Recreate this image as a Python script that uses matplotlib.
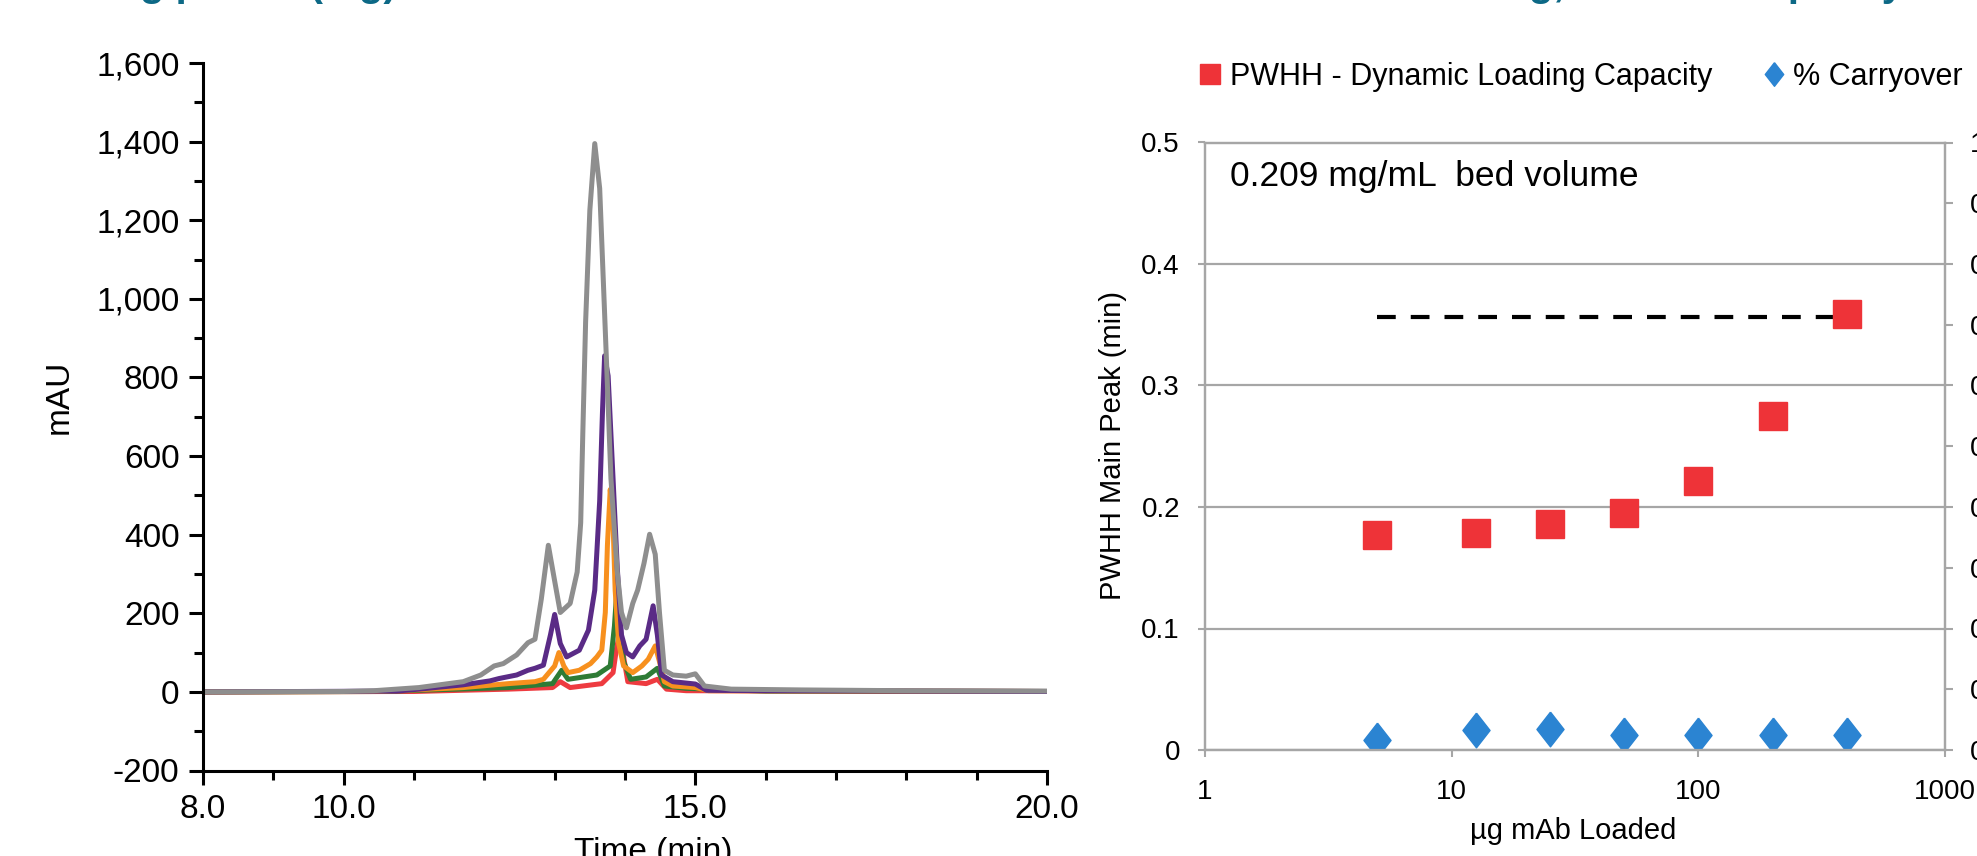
import matplotlib.pyplot as plt
from matplotlib.lines import Line2D
from matplotlib.ticker import FixedLocator, FuncFormatter, MultipleLocator, NullLocator

plt.rcParams.update({"font.family": ["Liberation Sans", "DejaVu Sans"]})

# ---- left panel: chromatogram overlay (time in min, signal in mAU) ----
gray_t = [8.0, 10.0, 10.43, 11.07, 11.70, 11.95, 12.14, 12.27, 12.46, 12.62, 12.72, 12.81,
          12.91, 13.00, 13.08, 13.22, 13.32, 13.37, 13.40, 13.44, 13.50, 13.57, 13.64, 13.69,
          13.74, 13.80, 13.89, 13.95, 14.02, 14.11, 14.18, 14.27, 14.35, 14.43, 14.49, 14.56,
          14.68, 14.87, 15.00, 15.13, 15.51, 16.5, 18.0, 20.0]
gray_v = [0, 1, 3, 11, 26, 43, 66, 72, 94, 125, 134, 236, 373, 282, 202, 225, 305, 430, 657,
          941, 1225, 1395, 1281, 1054, 827, 543, 305, 202, 163, 225, 259, 327, 401, 350, 202,
          55, 43, 40, 46, 15, 7, 5, 3, 2]

purple_t = [8.0, 10.75, 11.07, 11.70, 12.08, 12.21, 12.46, 12.62, 12.72, 12.84, 12.94, 13.00,
            13.08, 13.17, 13.35, 13.48, 13.57, 13.64, 13.68, 13.71, 13.76, 13.83, 13.89, 13.95,
            14.02, 14.11, 14.21, 14.30, 14.40, 14.46, 14.52, 14.68, 15.00, 15.16, 16.0, 18.0, 20.0]
purple_v = [0, 2, 7, 18, 28, 34, 43, 55, 60, 68, 145, 197, 123, 89, 106, 157, 259, 486, 714,
            855, 804, 543, 316, 145, 100, 89, 117, 134, 219, 145, 43, 26, 20, 4, 3, 2, 1]

orange_t = [8.0, 10.5, 11.70, 12.34, 12.72, 12.84, 13.00, 13.06, 13.13, 13.19, 13.35, 13.51,
            13.60, 13.67, 13.72, 13.75, 13.79, 13.83, 13.86, 13.91, 13.98, 14.11, 14.24, 14.33,
            14.43, 14.49, 14.56, 14.68, 15.00, 15.19, 17.0, 20.0]
orange_v = [0, 1, 11, 21, 26, 32, 66, 100, 66, 49, 55, 72, 89, 106, 202, 373, 515, 430, 259,
            123, 66, 49, 66, 83, 117, 77, 26, 15, 11, 3, 2, 1]

green_t = [8.0, 10.5, 12.34, 12.97, 13.10, 13.19, 13.60, 13.79, 13.85, 13.89, 13.93, 13.98,
           14.08, 14.30, 14.46, 14.56, 14.87, 16.0, 20.0]
green_v = [0, 1, 11, 21, 55, 32, 43, 66, 168, 276, 168, 77, 32, 38, 60, 15, 9, 2, 1]

red_t = [8.0, 11.0, 12.34, 12.97, 13.08, 13.22, 13.67, 13.83, 13.88, 13.92, 13.97, 14.04,
         14.30, 14.46, 14.59, 14.87, 20.0]
red_v = [0, 1, 7, 11, 26, 11, 21, 49, 111, 146, 100, 26, 21, 32, 7, 3, 1]

# ---- right panel: loading study ----
load_ug = [5, 12.5, 25, 50, 100, 200, 400]
pwhh_min = [0.177, 0.179, 0.186, 0.195, 0.221, 0.275, 0.359]
carryover_pct = [0.017, 0.033, 0.035, 0.025, 0.025, 0.025, 0.025]
capacity_x = [5, 400]
capacity_y = [0.356, 0.356]

W, H = 1977, 856
fig = plt.figure(figsize=(W / 100, H / 100), dpi=100)

# titles run off the top of the frame, only descenders show
fig.text(8 / W, 1 + 4 / H, "Loading profile (mg)", color="#0d6986", fontsize=29,
         fontweight="bold", va="baseline")
fig.text(1285 / W, 1 + 4 / H, "Mass Loading, Column Capacity", color="#0d6986",
         fontsize=29, fontweight="bold", va="baseline")

# left chart
ax = fig.add_axes([203 / W, 1 - 770.5 / H, 844 / W, 707.5 / H])
traces = [(red_t, red_v, "#ee3b40"), (green_t, green_v, "#2e7b35"),
          (orange_t, orange_v, "#f7901e"), (purple_t, purple_v, "#5a2b86"),
          (gray_t, gray_v, "#8e8e8e")]
for t, v, c in traces:
    ax.plot(t, v, color=c, lw=3.6, solid_joinstyle="round", solid_capstyle="round")
ax.set_xlim(8, 20)
ax.set_ylim(-200, 1600)
for s in ["top", "right"]:
    ax.spines[s].set_visible(False)
for s in ["left", "bottom"]:
    ax.spines[s].set_linewidth(2.2)
ax.set_xticks([8, 10, 15, 20])
ax.set_xticklabels(["8.0", "10.0", "15.0", "20.0"])
ax.xaxis.set_minor_locator(FixedLocator(list(range(9, 20))))
ax.yaxis.set_major_locator(MultipleLocator(200))
ax.yaxis.set_minor_locator(MultipleLocator(100))
ax.yaxis.set_major_formatter(FuncFormatter(lambda v, _: f"{v:,.0f}"))
ax.tick_params(which="major", direction="out", length=10, width=2.2, labelsize=24, pad=7)
ax.tick_params(which="minor", direction="out", length=6.5, width=2.2)
ax.set_ylabel("mAU", fontsize=24)
ax.yaxis.set_label_coords(-0.152, 0.528)
ax.set_xlabel("Time (min)", fontsize=24)
ax.xaxis.set_label_coords(0.533, -0.094)

# right chart
grid_c = "#a6a6a6"
axr = fig.add_axes([1205 / W, 1 - 750 / H, 740 / W, 607.5 / H])
axr.set_xscale("log")
axr.set_xlim(1, 1000)
axr.set_ylim(0, 0.5)
axr.xaxis.set_major_locator(FixedLocator([1, 10, 100, 1000]))
axr.xaxis.set_minor_locator(NullLocator())
axr.xaxis.set_major_formatter(FuncFormatter(lambda v, _: f"{v:g}"))
axr.yaxis.set_major_locator(MultipleLocator(0.1))
axr.yaxis.set_major_formatter(FuncFormatter(lambda v, _: f"{v:g}"))
axr.grid(axis="y", color=grid_c, lw=1.6)
axr.set_axisbelow(True)
for s in axr.spines.values():
    s.set_color(grid_c)
    s.set_linewidth(1.6)
axr.tick_params(axis="both", direction="out", color=grid_c, width=1.5, length=5,
                labelsize=20)
axr.tick_params(axis="y", pad=13)
axr.tick_params(axis="x", pad=16)

axr.plot(capacity_x, capacity_y, color="black", lw=3, ls=(0, (4.5, 3.6)))
axr.plot(load_ug, pwhh_min, ls="none", marker="s", ms=20, color="#ee3338")
axr.text(0.034, 0.944, "0.209 mg/mL  bed volume", transform=axr.transAxes,
         fontsize=25.5, va="center")
axr.set_ylabel("PWHH Main Peak (min)", fontsize=21)
axr.yaxis.set_label_coords(-0.105, 0.502)
axr.set_xlabel("µg mAb Loaded", fontsize=21)
axr.xaxis.set_label_coords(0.498, -0.11)

ax2 = axr.twinx()
ax2.set_ylim(0, 1)
ax2.yaxis.set_major_locator(MultipleLocator(0.1))
ax2.yaxis.set_major_formatter(FuncFormatter(lambda v, _: f"{v:g}"))
for s in ax2.spines.values():
    s.set_color(grid_c)
    s.set_linewidth(1.6)
ax2.tick_params(axis="y", direction="out", color=grid_c, width=1.5, length=6,
                labelsize=20, pad=12)
diamond = [(0, 1), (0.78, 0), (0, -1), (-0.78, 0), (0, 1)]
ax2.plot(load_ug, carryover_pct, ls="none", marker=diamond, ms=25, color="#2b84d2")
ax2.set_ylabel("% Carryover", fontsize=21)

handles = [Line2D([], [], ls="none", marker="s", ms=14, color="#ee3338"),
           Line2D([], [], ls="none", marker=diamond, ms=17, color="#2b84d2")]
fig.legend(handles, ["PWHH - Dynamic Loading Capacity", "% Carryover"],
           loc="center left", bbox_to_anchor=(1198 / W, 1 - 77 / H), ncol=2,
           frameon=False, fontsize=22, handlelength=0.8, handletextpad=0.25,
           columnspacing=1.6, borderpad=0, borderaxespad=0)

fig.savefig("out.png", dpi=100)
